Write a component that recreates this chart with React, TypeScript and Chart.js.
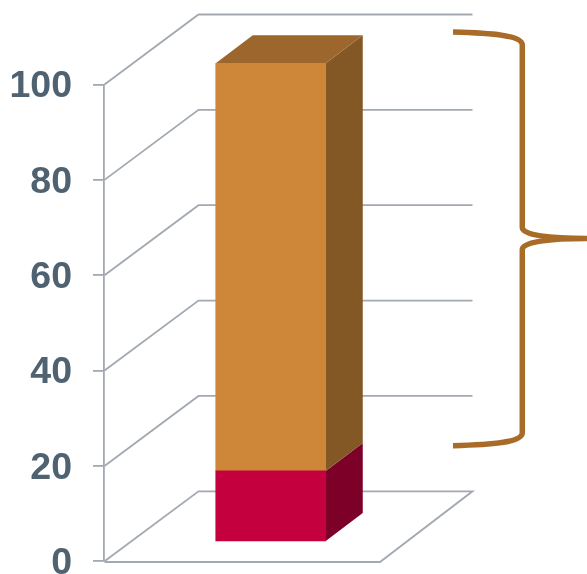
import React, { useEffect, useRef } from "react";
import { Chart, registerables } from "chart.js";

Chart.register(...registerables);

const categories = ["Total"];
const lowerValues = [14.7];
const upperValues = [85.5];
const tickStep = 20;
const axisMax = 100;

const GRID = "#A3A9B1";
const LABEL = "#4F6272";
const BRACE = "#A96B28";
const wallDepth = { dx: 94, dy: -70 };
const barDepth = { dx: 37, dy: -28 };
const faces = [
  { front: "#C4003F", side: "#7D0029", top: "#7D0029" },
  { front: "#CE8738", side: "#835825", top: "#9C662C" },
];

const wallsAndDepth = {
  id: "wallsAndDepth",
  beforeDatasetsDraw(chart: any) {
    const { ctx, chartArea, scales } = chart;
    const y = scales.y;
    const left = chartArea.left + 0.5;
    const floorRight = left + 275.5;
    const backLeft = left + wallDepth.dx;
    const backRight = floorRight + wallDepth.dx - 1.5;
    ctx.save();
    ctx.strokeStyle = GRID;
    ctx.lineWidth = 1.8;
    ctx.lineJoin = "miter";
    y.ticks.forEach((t: any) => {
      const py = y.getPixelForValue(t.value);
      ctx.beginPath();
      ctx.moveTo(left, py);
      ctx.lineTo(backLeft, py + wallDepth.dy);
      ctx.lineTo(backRight, py + wallDepth.dy);
      if (t.value === 0) {
        ctx.lineTo(floorRight, py + 0.7);
        ctx.lineTo(left, py + 0.7);
      }
      ctx.stroke();
    });
    // side and top faces of each stacked segment
    chart.data.datasets.forEach((_: any, i: number) => {
      const bar = chart.getDatasetMeta(i).data[0] as any;
      const p = bar.getProps(["x", "y", "base", "width"]);
      const r = p.x + p.width / 2;
      const l = p.x - p.width / 2;
      ctx.fillStyle = faces[i].side;
      ctx.beginPath();
      ctx.moveTo(r, p.y);
      ctx.lineTo(r + barDepth.dx, p.y + barDepth.dy);
      ctx.lineTo(r + barDepth.dx, p.base + barDepth.dy);
      ctx.lineTo(r, p.base);
      ctx.closePath();
      ctx.fill();
      if (i === chart.data.datasets.length - 1) {
        ctx.fillStyle = faces[i].top;
        ctx.beginPath();
        ctx.moveTo(l, p.y);
        ctx.lineTo(l + barDepth.dx, p.y + barDepth.dy);
        ctx.lineTo(r + barDepth.dx, p.y + barDepth.dy);
        ctx.lineTo(r, p.y);
        ctx.closePath();
        ctx.fill();
      }
    });
    ctx.restore();
  },
};

const brace = {
  id: "brace",
  afterDraw(chart: any) {
    const { ctx, width } = chart;
    const x0 = 453;
    const xs = 522.3;
    const top = 32;
    const mid = 238.5;
    const bottom = 445.7;
    ctx.save();
    ctx.strokeStyle = BRACE;
    ctx.lineWidth = 5.5;
    ctx.lineCap = "butt";
    ctx.beginPath();
    ctx.moveTo(x0, top);
    ctx.bezierCurveTo(490, top + 1, xs, top + 3, xs, top + 13);
    ctx.lineTo(xs, mid - 11);
    ctx.bezierCurveTo(xs, mid - 3, 550, mid, width, mid);
    ctx.bezierCurveTo(550, mid, xs, mid + 3, xs, mid + 11);
    ctx.lineTo(xs, bottom - 13);
    ctx.bezierCurveTo(xs, bottom - 3, 490, bottom - 1, x0, bottom);
    ctx.stroke();
    ctx.restore();
  },
};

export default function App() {
  const ref = useRef<HTMLCanvasElement>(null);
  useEffect(() => {
    const chart = new Chart(ref.current!, {
      type: "bar",
      data: {
        labels: categories,
        datasets: [
          { label: "Lower", data: lowerValues, backgroundColor: faces[0].front, yAxisID: "yBar", barThickness: 110, clip: false } as any,
          { label: "Upper", data: upperValues, backgroundColor: faces[1].front, yAxisID: "yBar", barThickness: 110, clip: false } as any,
        ],
      },
      plugins: [wallsAndDepth, brace],
      options: {
        animation: false,
        responsive: false,
        devicePixelRatio: 1,
        layout: { padding: { top: 84.5, bottom: 12.7, left: 0, right: 149.5 } },
        plugins: { legend: { display: false }, tooltip: { enabled: false } },
        scales: {
          x: { stacked: true, display: false },
          y: {
            position: "left",
            min: 0,
            max: axisMax,
            afterFit(scale: any) {
              scale.width = 104;
              scale.paddingTop = 0;
              scale.paddingBottom = 0;
            },
            ticks: {
              stepSize: tickStep,
              autoSkip: false,
              padding: 21,
              labelOffset: 2.5,
              color: LABEL,
              font: { family: "'Liberation Sans'", size: 37.5, weight: "bold" },
            },
            border: { display: true, color: GRID, width: 1.8 },
            grid: { drawOnChartArea: false, drawTicks: true, tickLength: 11, color: GRID, lineWidth: 1.8 },
          },
          yBar: {
            display: false,
            stacked: true,
            min: -4.26,
            max: axisMax - 4.26,
          },
        },
      },
    } as any);
    return () => chart.destroy();
  }, []);
  return (
    <div style={{ position: "absolute", left: 0, top: 0 }}>
      <canvas ref={ref} width={587} height={574} style={{ display: "block" }} />
    </div>
  );
}
